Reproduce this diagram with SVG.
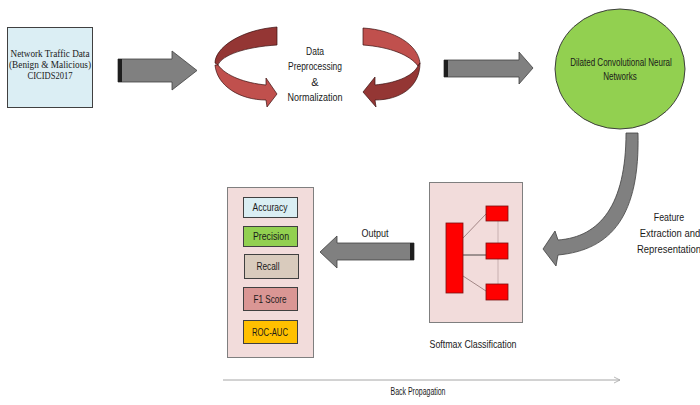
<svg xmlns="http://www.w3.org/2000/svg" width="700" height="405" viewBox="0 0 700 405">
<style>
.t{font-family:"Liberation Sans",Arial,sans-serif;font-size:11px;fill:#1a1a1a;text-anchor:middle}
.s{font-family:"Liberation Serif","Times New Roman",serif;font-size:10.5px;fill:#1a1a1a;text-anchor:middle}
.blk{fill:#808080;stroke:#404040;stroke-width:0.8}
.band{fill:#1e1e1e}
.dk{fill:#943634;stroke:#3a1010;stroke-width:0.7}
.lt{fill:#c0504d;stroke:#3a1010;stroke-width:0.7}
.red{fill:#ff0000;stroke:#7a1010;stroke-width:0.8}
.panel{fill:#f2dcdb;stroke:#7f7f7f;stroke-width:1}
.mb{stroke:#404040;stroke-width:1}
</style>
<defs>
<marker id="open" markerWidth="8" markerHeight="8" refX="7" refY="4" orient="auto" markerUnits="userSpaceOnUse">
<path d="M1,1 L7,4 L1,7" fill="none" stroke="#a6a6a6" stroke-width="0.8"/>
</marker>
</defs>
<rect width="700" height="405" fill="#ffffff"/>

<g id="input">
<rect x="7.5" y="27.5" width="85" height="80" fill="#dbeef4" stroke="#404040" stroke-width="1"/>
<text class="s" x="50" y="57" textLength="79" lengthAdjust="spacingAndGlyphs">Network Traffic Data</text>
<text class="s" x="50" y="68" textLength="82" lengthAdjust="spacingAndGlyphs">(Benign &amp; Malicious)</text>
<text class="s" x="50" y="79" textLength="45" lengthAdjust="spacingAndGlyphs">CICIDS2017</text>
</g>

<g id="preprocessing">
<path class="dk" d="M277,27 C240,30 215,48 215,63 L218,65 C222,55 245,47 277,45 Z"/>
<path class="lt" d="M218,65 C226,76 245,83 266,85 L266,78 L277,94 L267,107 L266,100 C240,100 217,86 215,65 Z"/>
<path class="lt" d="M363,28 C395,30 418,45 420,63 L418,66 C410,55 390,47 363,45 Z"/>
<path class="dk" d="M418,66 C412,77 395,83 375,85 L375,77 L363,92 L376,107 L375,100 C400,100 420,87 420,63 Z"/>
<text class="t" x="315" y="55" textLength="18" lengthAdjust="spacingAndGlyphs">Data</text>
<text class="t" x="315" y="70" textLength="54" lengthAdjust="spacingAndGlyphs">Preprocessing</text>
<text class="t" x="315" y="86">&amp;</text>
<text class="t" x="315" y="101" textLength="55" lengthAdjust="spacingAndGlyphs">Normalization</text>
</g>

<g id="dcnn">
<ellipse cx="620" cy="69" rx="65" ry="60" fill="#92d050" stroke="#3f3f3f" stroke-width="1"/>
<text class="t" font-size="10" transform="translate(621,66) scale(0.73,1)" x="0" y="0">Dilated Convolutional Neural</text>
<text class="t" font-size="10" transform="translate(620,80) scale(0.73,1)" x="0" y="0">Networks</text>
</g>

<g id="softmax">
<rect class="panel" x="429.5" y="182.5" width="93" height="140"/>
<line x1="498" y1="221" x2="498" y2="284" stroke="#c8b0b0" stroke-width="1"/>
<line x1="463" y1="238" x2="486" y2="214" stroke="#806060" stroke-width="0.7"/>
<line x1="463" y1="255" x2="486" y2="255" stroke="#202020" stroke-width="0.8"/>
<line x1="463" y1="276" x2="486" y2="291" stroke="#806060" stroke-width="0.7"/>
<rect class="red" x="446" y="223" width="17" height="70"/>
<rect class="red" x="486" y="206" width="22" height="15"/>
<rect class="red" x="486" y="243" width="22" height="16"/>
<rect class="red" x="486" y="284" width="22" height="16"/>
<text class="t" x="473" y="348" textLength="87" lengthAdjust="spacingAndGlyphs">Softmax Classification</text>
</g>

<g id="metrics">
<rect class="panel" x="227.5" y="187.5" width="86" height="170"/>
<rect class="mb" x="243.5" y="197.5" width="54" height="20" fill="#daeef3"/>
<text class="t" x="270" y="211" textLength="35" lengthAdjust="spacingAndGlyphs">Accuracy</text>
<rect class="mb" x="243.5" y="226.5" width="54" height="20" fill="#92d050"/>
<text class="t" x="271" y="240" textLength="36" lengthAdjust="spacingAndGlyphs">Precision</text>
<rect class="mb" x="244.5" y="254.5" width="54" height="24" fill="#d9cbbd"/>
<text class="t" x="268" y="270" textLength="23" lengthAdjust="spacingAndGlyphs">Recall</text>
<rect class="mb" x="243.5" y="287.5" width="54" height="23" fill="#da9694"/>
<text class="t" x="270" y="303" textLength="33" lengthAdjust="spacingAndGlyphs">F1 Score</text>
<rect class="mb" x="243.5" y="320.5" width="54" height="23" fill="#ffc000"/>
<text class="t" x="270" y="336" textLength="36" lengthAdjust="spacingAndGlyphs">ROC-AUC</text>
</g>

<g id="connectors">
<path class="blk" d="M118,59 L172,59 L172,51 L197,70.5 L172,90 L172,82 L118,82 Z"/>
<rect class="band" x="118" y="59" width="4" height="23"/>
<path class="blk" d="M444,60 L519,60 L519,52 L533,68 L519,84 L519,77 L444,77 Z"/>
<rect class="band" x="444" y="60" width="4" height="17"/>
<path class="blk" d="M626,133 L638,133 C640,215 612,250 558,255 L556,266 L543,249 L555,231 L558,240 C600,237 626,205 626,133 Z"/>
<path class="blk" d="M414,243 L337,243 L337,236 L320,252 L337,268 L337,260 L414,260 Z"/>
<rect class="band" x="410" y="243" width="4" height="17"/>
<line x1="223" y1="380" x2="620" y2="380" stroke="#a6a6a6" stroke-width="1" marker-end="url(#open)"/>
<text class="t" x="375" y="237" textLength="27" lengthAdjust="spacingAndGlyphs">Output</text>
<text class="t" font-size="10" transform="translate(669,221) scale(0.8,1)" x="0" y="0">Feature</text>
<text class="t" font-size="10" transform="translate(670,237) scale(0.86,1)" x="0" y="0">Extraction and</text>
<text class="t" font-size="10" transform="translate(669,253) scale(0.86,1)" x="0" y="0">Representation</text>
<text class="t" x="418" y="395" textLength="55" lengthAdjust="spacingAndGlyphs">Back Propagation</text>
</g>
</svg>
